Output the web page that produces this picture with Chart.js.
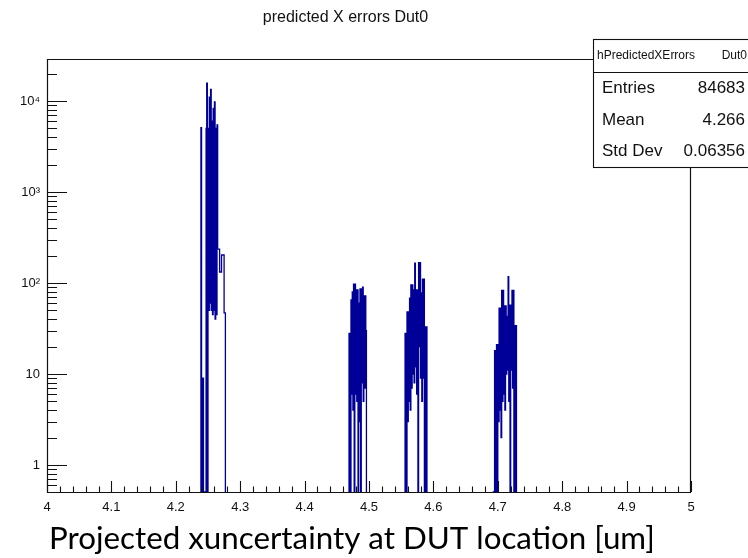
<!DOCTYPE html>
<html>
<head>
<meta charset="utf-8">
<script src="https://cdn.jsdelivr.net/npm/chart.js@4.4.1/dist/chart.umd.min.js"></script>
<style>
  html, body { margin: 0; padding: 0; background: #fff; }
  #wrap { position: relative; width: 748px; height: 558px; }
</style>
</head>
<body>
<div id="wrap"><canvas id="c" width="748" height="558"></canvas></div>
<script>
// Histogram definition: fixed-width bins on [4, 5], log-scaled counts
const binWidth = 0.001;
const xMin = 4, xMax = 5;
const yMin = 0.505, yMax = 28900;
const xTickStep = 0.02;
const yDecadeLabels = { 0: '1', 1: '10', 2: '10\u00B2', 3: '10\u00B3', 4: '10\u2074' };

// Filled bins, grouped by peak (low edge of first bin + counts per bin)
const peak1Start = 4.238;
const peak1Counts = [0, 5100, 0, 9, 9, 0, 0, 0, 0, 5000, 15700, 0, 5000, 50, 11000, 60, 13400, 50, 6000, 45,
  8300, 50, 9750, 40, 5000, 45, 5450, 236, 236, 236, 132, 132, 132, 203, 203, 203, 203, 47, 47, 0];

const peak2Start = 4.468;
const peak2Counts = [0, 28, 0, 0, 65, 6, 80, 4, 97, 0, 97, 6, 84, 5, 84, 0, 60, 3, 86, 0, 86, 8, 90, 5, 72, 7,
  72, 30, 0];

const peak3Start = 4.555;
const peak3Counts = [0, 28, 0, 0, 48, 3, 48, 5, 68, 4, 95, 7, 95, 10, 84, 8, 165, 12, 84, 6, 84, 0, 167, 20, 167,
  9, 78, 5, 110, 9, 110, 0, 0, 33, 33, 0];

const peak4Start = 4.692;
const peak4Counts = [0, 0, 0, 18, 0, 0, 21, 0, 21, 3, 53, 4, 53, 2, 83, 5, 83, 6, 56, 4, 56, 10, 43, 11, 117, 5,
  57, 0, 57, 11, 83, 7, 83, 0, 34, 0, 34, 0];

// Stats panel
const statsName = 'hPredictedXErrors';
const statsSuffix = 'Dut0';
const statsRows = [['Entries', '84683'], ['Mean', '4.266'], ['Std Dev', '0.06356']];

const titleText = 'predicted X errors Dut0';
const xAxisLabel = 'Projected xuncertainty at DUT location [um]';

const lineColor = '#000099';

// Turn one peak into histogram outline points (bin low edges, stepped drawing)
function outline(start, counts) {
  const pts = [{ x: start, y: yMin }];
  counts.forEach((c, i) => pts.push({ x: start + i * binWidth, y: c > 0 ? c : yMin }));
  pts.push({ x: start + counts.length * binWidth, y: yMin });
  return pts;
}

function peakDataset(start, counts) {
  return {
    data: outline(start, counts),
    stepped: 'before',
    borderColor: lineColor,
    borderWidth: 1.3,
    pointRadius: 0,
    fill: false,
    tension: 0
  };
}

function isMultiple(v, step) {
  const r = v / step;
  return Math.abs(r - Math.round(r)) < 1e-6;
}

// Frame, inward tick marks, stats panel and axis caption
const rootFrame = {
  id: 'rootFrame',
  afterDatasetsDraw(chart) {
    const { ctx, chartArea: a, scales: { x, y } } = chart;
    ctx.save();
    ctx.strokeStyle = '#111';
    ctx.lineWidth = 1.2;
    ctx.beginPath();
    ctx.rect(Math.round(a.left) + 0.5, Math.round(a.top) + 0.5,
      Math.round(a.right) - Math.round(a.left) - 1, Math.round(a.bottom) - Math.round(a.top));
    ctx.stroke();

    ctx.lineWidth = 1.1;
    ctx.beginPath();
    y.ticks.forEach(t => {
      const v = t.value;
      if (!(v > 0)) return;
      const e = Math.floor(Math.log10(v) + 1e-9);
      const m = v / Math.pow(10, e);
      if (Math.abs(m - Math.round(m)) > 1e-6) return;
      const py = Math.round(y.getPixelForValue(v)) + 0.5;
      if (py < a.top || py > a.bottom) return;
      const len = Math.round(m) === 1 ? 20 : 10;
      ctx.moveTo(a.left, py);
      ctx.lineTo(a.left + len, py);
    });
    x.ticks.forEach(t => {
      const v = t.value;
      const px = Math.round(x.getPixelForValue(v)) + 0.5;
      const len = isMultiple(v, 0.1) ? 11 : 5.5;
      ctx.moveTo(px, a.bottom);
      ctx.lineTo(px, a.bottom - len);
    });
    ctx.stroke();
    ctx.restore();
  },
  afterDraw(chart) {
    const { ctx, scales: { x } } = chart;
    ctx.save();
    // stats panel
    const bx = 593.5, by = 39.5, bw = 200, bh = 128, hh = 33;
    ctx.fillStyle = '#fff';
    ctx.fillRect(bx, by, bw, bh);
    ctx.strokeStyle = '#111';
    ctx.lineWidth = 1.1;
    ctx.strokeRect(bx, by, bw, bh);
    ctx.beginPath();
    ctx.moveTo(bx, by + hh);
    ctx.lineTo(bx + bw, by + hh);
    ctx.stroke();
    ctx.fillStyle = '#111';
    ctx.textBaseline = 'middle';
    ctx.font = '12px "Liberation Sans", Arial, sans-serif';
    ctx.textAlign = 'left';
    ctx.fillText(statsName, 597, by + hh / 2);
    ctx.textAlign = 'right';
    ctx.fillText(statsSuffix, 747, by + hh / 2);
    ctx.font = '17px "Liberation Sans", Arial, sans-serif';
    const rowH = (bh - hh) / statsRows.length;
    statsRows.forEach((r, i) => {
      const cy = by + hh + rowH * (i + 0.5);
      ctx.textAlign = 'left';
      ctx.fillText(r[0], 602, cy);
      ctx.textAlign = 'right';
      ctx.fillText(r[1], 745, cy);
    });
    // axis caption, spanning from the left axis end to about 4.944
    const capLeft = x.getPixelForValue(xMin) + 2;
    const capRight = x.getPixelForValue(4.944);
    ctx.font = '30px Lato, "Open Sans", sans-serif';
    const w30 = ctx.measureText(xAxisLabel).width;
    const size = 30 * (capRight - capLeft) / w30;
    ctx.font = size.toFixed(2) + 'px Lato, "Open Sans", sans-serif';
    ctx.textAlign = 'left';
    ctx.textBaseline = 'alphabetic';
    ctx.fillStyle = '#000';
    ctx.fillText(xAxisLabel, capLeft, 549);
    ctx.restore();
  }
};

const tickFont = { family: '"Liberation Sans", Arial, sans-serif', size: 13 };

function build() {
  new Chart(document.getElementById('c'), {
    type: 'line',
    data: {
      datasets: [
        peakDataset(peak1Start, peak1Counts),
        peakDataset(peak2Start, peak2Counts),
        peakDataset(peak3Start, peak3Counts),
        peakDataset(peak4Start, peak4Counts)
      ]
    },
    options: {
      responsive: false,
      animation: false,
      devicePixelRatio: 1,
      layout: { padding: { left: 0, right: 57, top: 0, bottom: 0 } },
      plugins: {
        legend: { display: false },
        tooltip: { enabled: false },
        title: {
          display: true,
          text: titleText,
          color: '#111',
          font: { family: '"Liberation Sans", Arial, sans-serif', size: 16, weight: 'normal' },
          padding: { top: 8, bottom: 31.8 }
        }
      },
      scales: {
        x: {
          type: 'linear',
          min: xMin,
          max: xMax,
          grid: { display: false, drawTicks: false, tickLength: 0 },
          border: { display: false },
          afterFit: s => { s.height = 66; },
          ticks: {
            stepSize: xTickStep,
            maxTicksLimit: 200,
            autoSkip: false,
            maxRotation: 0,
            padding: 8,
            color: '#111',
            font: tickFont,
            callback: v => {
              if (!isMultiple(v, 0.1)) return '';
              const r = Math.round(v * 10) / 10;
              return Number.isInteger(r) ? String(r) : r.toFixed(1);
            }
          }
        },
        y: {
          type: 'logarithmic',
          min: yMin,
          max: yMax,
          grid: { display: false, drawTicks: false, tickLength: 0 },
          border: { display: false },
          afterFit: s => { s.width = 47; },
          ticks: {
            autoSkip: false,
            padding: 7,
            color: '#111',
            font: tickFont,
            callback: v => {
              const l = Math.log10(v);
              if (Math.abs(l - Math.round(l)) > 1e-9) return '';
              const lab = yDecadeLabels[Math.round(l)];
              return lab === undefined ? '' : lab;
            }
          }
        }
      }
    },
    plugins: [rootFrame]
  });
}

const fontsReady = document.fonts && document.fonts.load
  ? Promise.all([
      document.fonts.load('16px "Liberation Sans"'),
      document.fonts.load('30px Lato')
    ]).catch(() => {})
  : Promise.resolve();
fontsReady.then(build);
</script>
</body>
</html>
